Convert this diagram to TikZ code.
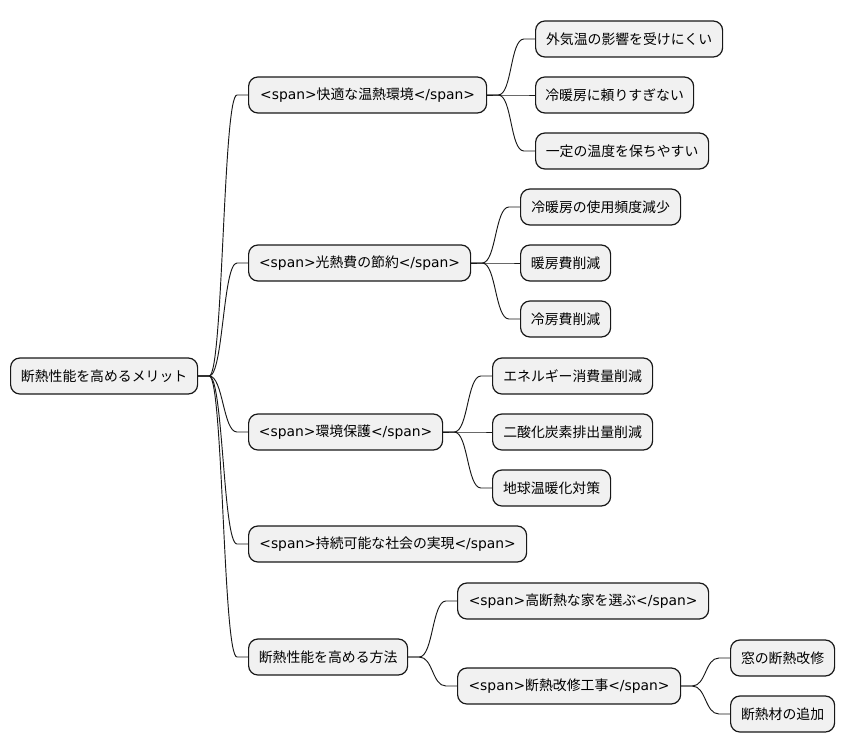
\documentclass[tikz,border=0pt]{standalone}
\usepackage{fontspec}
\setmainfont{DejaVu Sans}
\newfontfamily\jp{Noto Sans CJK JP}
\usepackage{xcolor}
\definecolor{boxfill}{HTML}{F1F1F1}
\definecolor{boxline}{HTML}{181818}
\usetikzlibrary{positioning, calc}

\begin{document}
\begin{tikzpicture}[
        x=0.75pt, y=-0.75pt,
        font=\fontsize{10.4pt}{12pt}\selectfont,
        topic/.style={
            rectangle,
            rounded corners=7pt,
            draw=boxline,
            fill=boxfill,
            line width=0.9pt,
            inner sep=0pt,
            anchor=west,
            minimum height=27pt,
            minimum width=#1*0.75pt
        },
        link/.style={
            draw=boxline,
            line width=0.7pt,
            to path={-- ++(11,0) .. controls +(14,0) and +(-14,0) .. ($(\tikztotarget.west)+(-11,0)$) -- (\tikztotarget.west)}
        }
    ]

    % Canvas
    \useasboundingbox (0,0) rectangle (845,752);

    % Root
    \node[topic=187] (root) at (10,376) {\jp 断熱性能を高めるメリット};

    % First level
    \node[topic=238] (comfort) at (248,95) {<span>{\jp 快適な温熱環境}</span>};
    \node[topic=222] (cost) at (248,263) {<span>{\jp 光熱費の節約}</span>};
    \node[topic=194] (eco) at (248,432) {<span>{\jp 環境保護}</span>};
    \node[topic=278] (society) at (248,544) {<span>{\jp 持続可能な社会の実現}</span>};
    \node[topic=159] (method) at (248,657) {\jp 断熱性能を高める方法};

    \draw[link] (root.east) to (comfort);
    \draw[link] (root.east) to (cost);
    \draw[link] (root.east) to (eco);
    \draw[link] (root.east) to (society);
    \draw[link] (root.east) to (method);

    % Comfort branch
    \node[topic=187] (outside) at (535,39) {\jp 外気温の影響を受けにくい};
    \node[topic=158] (lessac) at (535,95) {\jp 冷暖房に頼りすぎない};
    \node[topic=173] (steady) at (535,151) {\jp 一定の温度を保ちやすい};
    \draw[link] (comfort.east) to (outside);
    \draw[link] (comfort.east) to (lessac);
    \draw[link] (comfort.east) to (steady);

    % Cost branch
    \node[topic=160] (usage) at (520,207) {\jp 冷暖房の使用頻度減少};
    \node[topic=90] (heatcost) at (520,263) {\jp 暖房費削減};
    \node[topic=90] (coolcost) at (520,319) {\jp 冷房費削減};
    \draw[link] (cost.east) to (usage);
    \draw[link] (cost.east) to (heatcost);
    \draw[link] (cost.east) to (coolcost);

    % Environment branch
    \node[topic=160] (energy) at (492,376) {\jp エネルギー消費量削減};
    \node[topic=160] (carbon) at (492,432) {\jp 二酸化炭素排出量削減};
    \node[topic=118] (warming) at (492,488) {\jp 地球温暖化対策};
    \draw[link] (eco.east) to (energy);
    \draw[link] (eco.east) to (carbon);
    \draw[link] (eco.east) to (warming);

    % Method branch
    \node[topic=251] (house) at (457,601) {<span>{\jp 高断熱な家を選ぶ}</span>};
    \node[topic=223] (retrofit) at (457,686) {<span>{\jp 断熱改修工事}</span>};
    \draw[link] (method.east) to (house);
    \draw[link] (method.east) to (retrofit);

    \node[topic=104] (window) at (730,658) {\jp 窓の断熱改修};
    \node[topic=104] (material) at (730,714) {\jp 断熱材の追加};
    \draw[link] (retrofit.east) to (window);
    \draw[link] (retrofit.east) to (material);

\end{tikzpicture}
\end{document}
